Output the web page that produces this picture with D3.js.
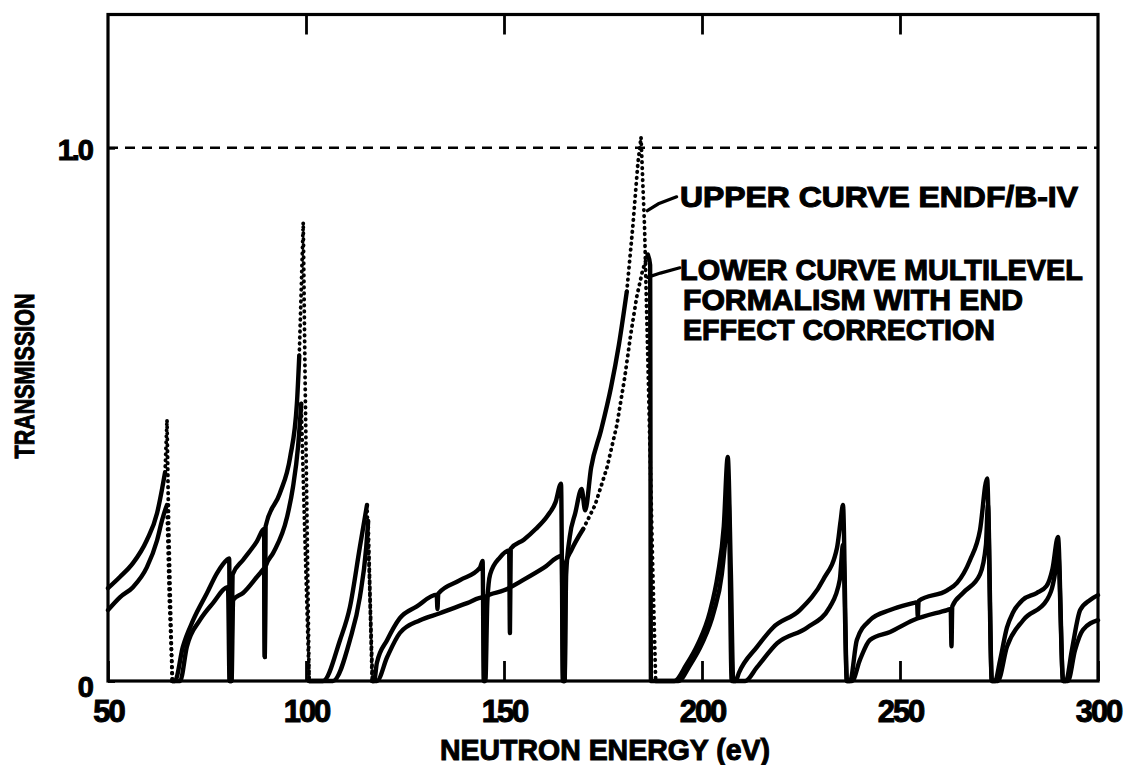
<!DOCTYPE html>
<html>
<head>
<meta charset="utf-8">
<script src="https://cdn.jsdelivr.net/npm/d3@7"></script>
<style>
  html, body { margin: 0; padding: 0; background: #fff; }
  svg { display: block; }
  text { font-family: "Liberation Sans", Arial, sans-serif; font-weight: bold; fill: #000; }
</style>
</head>
<body>
<svg id="chart" width="1132" height="765"></svg>
<script>
// Transmission vs neutron energy: ENDF/B-IV (upper) and multilevel fit (lower)
const xTicks = [50, 100, 150, 200, 250, 300];
const yTicks = [0, 1.0];
const yTickLabels = ["0", "1.0"];

// [energy eV, transmission]
const upperCurve = [
  [50.0, 0.174], [53.0, 0.195], [56.3, 0.221], [59.8, 0.264], [62.4, 0.315], [63.6, 0.358], [64.4, 0.391],
  [64.9, 0.49], [65.3, 0.30], [66.2, 0.0], [66.9, 0.0],
  [68.9, 0.064], [71.5, 0.114], [75.0, 0.165], [77.5, 0.202], [80.0, 0.227], [80.6, 0.23], [80.8, 0.0], [81.1, 0.0],
  [81.5, 0.2], [84.1, 0.227], [87.6, 0.262], [89.4, 0.285], [89.6, 0.045], [89.8, 0.29], [93.4, 0.352],
  [96.0, 0.42], [97.7, 0.52], [98.3, 0.61], [99.3, 0.86], [99.8, 0.55], [100.8, 0.0], [104.3, 0.0],
  [108.6, 0.077], [111.1, 0.139], [113.6, 0.251], [115.4, 0.33], [116.0, 0.2], [116.7, 0.0], [117.2, 0.0],
  [117.9, 0.034], [120.5, 0.077], [123.7, 0.118], [128.0, 0.14], [133.0, 0.162], [133.2, 0.135], [133.4, 0.164],
  [138.9, 0.189], [143.9, 0.212], [144.6, 0.225], [144.9, 0.0], [145.3, 0.0],
  [145.8, 0.15], [146.5, 0.20], [149.0, 0.232], [151.3, 0.245], [151.5, 0.09], [151.7, 0.248], [155.0, 0.265],
  [158.0, 0.285], [161.0, 0.31], [163.0, 0.335], [164.4, 0.37], [164.9, 0.0], [165.3, 0.0],
  [165.7, 0.2], [166.6, 0.27], [168.0, 0.315], [169.6, 0.36], [170.5, 0.32], [172.0, 0.40], [174.5, 0.47],
  [177.0, 0.55], [179.0, 0.63], [181.0, 0.73], [182.5, 0.85], [183.8, 0.97], [184.6, 1.02], [185.5, 0.85],
  [186.5, 0.55], [187.6, 0.2], [188.3, 0.0], [193.0, 0.0],
  [196.0, 0.03], [199.0, 0.07], [202.0, 0.13], [204.0, 0.2], [205.5, 0.29], [206.5, 0.42], [207.3, 0.2],
  [207.9, 0.0], [208.5, 0.0],
  [209.3, 0.015], [213.9, 0.064], [217.9, 0.10], [224.7, 0.133], [230.6, 0.19], [234.1, 0.25], [235.0, 0.30],
  [235.6, 0.33], [236.6, 0.0], [237.4, 0.0],
  [239.1, 0.077], [242.4, 0.114], [247.5, 0.133], [253.3, 0.146], [254.3, 0.148], [254.5, 0.12], [254.7, 0.15],
  [261.9, 0.17], [264.4, 0.184], [267.7, 0.227], [270.2, 0.283], [272.0, 0.38], [273.2, 0.0], [274.0, 0.0],
  [275.3, 0.04], [277.0, 0.10], [278.5, 0.128], [281.0, 0.152], [284.5, 0.165], [287.0, 0.178], [288.5, 0.21],
  [289.9, 0.27], [291.2, 0.0], [291.9, 0.0],
  [293.4, 0.058], [295.5, 0.133], [298.0, 0.152], [300.0, 0.161]
];

const lowerCurve = [
  [50.0, 0.133], [53.0, 0.157], [56.3, 0.176], [59.8, 0.213], [62.4, 0.264], [63.6, 0.30], [64.4, 0.32],
  [64.9, 0.33], [65.5, 0.15], [66.3, 0.0], [68.2, 0.0],
  [69.9, 0.064], [73.2, 0.114], [76.5, 0.146], [80.3, 0.176], [80.7, 0.0], [81.2, 0.0],
  [81.6, 0.152], [84.1, 0.165], [88.4, 0.202], [89.4, 0.21], [89.6, 0.045], [89.8, 0.215], [91.7, 0.24],
  [95.2, 0.307], [96.7, 0.363], [98.0, 0.44], [98.8, 0.52], [99.6, 0.3], [100.8, 0.0], [106.8, 0.0],
  [111.1, 0.077], [113.6, 0.157], [115.2, 0.25], [115.7, 0.30], [116.2, 0.15], [116.8, 0.0], [117.9, 0.0],
  [120.5, 0.045], [123.7, 0.09], [128.8, 0.114], [133.8, 0.127], [140.7, 0.146], [144.8, 0.157], [145.0, 0.0],
  [145.3, 0.158], [150.0, 0.17], [155.0, 0.19], [160.0, 0.212], [164.6, 0.235], [164.9, 0.0], [165.3, 0.0],
  [165.6, 0.22], [167.0, 0.245], [170.0, 0.285], [173.0, 0.33], [176.0, 0.40], [178.5, 0.48], [180.5, 0.57],
  [182.0, 0.65], [183.5, 0.72], [185.0, 0.77], [186.3, 0.80], [186.9, 0.78], [187.1, 0.0], [194.0, 0.0],
  [197.0, 0.03], [200.0, 0.07], [203.0, 0.13], [205.0, 0.2], [206.3, 0.3], [206.7, 0.34], [207.5, 0.0], [210.9, 0.0],
  [213.9, 0.026], [219.0, 0.071], [226.5, 0.10], [232.3, 0.139], [234.8, 0.19], [235.6, 0.255], [236.6, 0.0], [237.9, 0.0],
  [239.9, 0.04], [242.4, 0.077], [247.5, 0.092], [253.3, 0.114], [261.9, 0.133], [262.8, 0.135], [263.0, 0.065],
  [263.2, 0.14], [265.9, 0.165], [270.2, 0.2], [271.7, 0.255], [272.2, 0.33], [273.2, 0.0], [274.7, 0.0],
  [277.0, 0.064], [281.1, 0.114], [287.1, 0.152], [289.1, 0.2], [289.9, 0.245], [291.2, 0.0], [292.4, 0.0],
  [294.2, 0.058], [296.2, 0.096], [300.0, 0.114]
];

// Energy ranges where the plotter trace is only a sparse row of points
const upperSparse = [[64.4, 66.2], [98.3, 100.8], [115.4, 116.7], [181.0, 188.3]];
const lowerSparse = [[64.9, 66.3], [98.8, 100.8], [115.7, 116.8], [170.0, 186.3]];

const annotationLines = [
  "UPPER CURVE ENDF/B-IV",
  "LOWER CURVE MULTILEVEL",
  "FORMALISM WITH END",
  "EFFECT CORRECTION"
];

const svg = d3.select("#chart");
const x = d3.scaleLinear().domain([50, 300]).range([108, 1098]);
const y = d3.scaleLinear().domain([0, 1.25]).range([681, 14.5]);

// Reference line at full transmission
svg.append("line")
  .attr("x1", x(50)).attr("x2", x(300))
  .attr("y1", y(1.0)).attr("y2", y(1.0))
  .attr("stroke", "#000").attr("stroke-width", 2.4)
  .attr("stroke-dasharray", "10,7");

// Split a curve into solid and sparse (dotted) runs
function runs(points, sparse) {
  const out = [];
  let cur = null;
  for (let i = 1; i < points.length; i++) {
    const a = points[i - 1], b = points[i];
    const dotted = sparse.some(([lo, hi]) => a[0] >= lo && b[0] <= hi);
    if (!cur || cur.dotted !== dotted) {
      cur = { dotted, pts: [a] };
      out.push(cur);
    }
    cur.pts.push(b);
  }
  return out;
}

const smooth = d3.line().x(d => x(d[0])).y(d => y(d[1])).curve(d3.curveMonotoneX);
const straight = d3.line().x(d => x(d[0])).y(d => y(d[1]));

function drawCurve(points, sparse, cls) {
  const g = svg.append("g").attr("class", cls);
  runs(points, sparse).forEach(r => {
    const p = g.append("path")
      .attr("fill", "none")
      .attr("stroke", "#000")
      .attr("stroke-linejoin", "round")
      .attr("stroke-linecap", "round");
    if (r.dotted) {
      p.attr("d", straight(r.pts)).attr("stroke-width", 3.8).attr("stroke-dasharray", "0.5,5.5");
    } else {
      p.attr("d", smooth(r.pts)).attr("stroke-width", 4.4);
    }
  });
}

drawCurve(upperCurve, upperSparse, "upper");
drawCurve(lowerCurve, lowerSparse, "lower");

// Frame
svg.append("rect")
  .attr("x", x(50)).attr("y", y(1.25))
  .attr("width", x(300) - x(50)).attr("height", y(0) - y(1.25))
  .attr("fill", "none").attr("stroke", "#000").attr("stroke-width", 3.2);

// Bottom axis: labels and inward ticks
const xAxis = d3.axisBottom(x)
  .tickValues(xTicks)
  .tickSizeInner(-20).tickSizeOuter(0)
  .tickPadding(19)
  .tickFormat(d3.format("d"));
const gx = svg.append("g").attr("transform", `translate(0,${y(0)})`).call(xAxis);
gx.select(".domain").remove();
gx.selectAll(".tick line").attr("stroke", "#000").attr("stroke-width", 2.8);
gx.selectAll(".tick text")
  .style("font-size", "31px")
  .attr("letter-spacing", "-2")
  .attr("stroke", "#000").attr("stroke-width", 1);

// Top axis: inward ticks only
const gt = svg.append("g").attr("transform", `translate(0,${y(1.25)})`)
  .call(d3.axisTop(x).tickValues(xTicks.slice(1, -1)).tickSizeInner(-20).tickSizeOuter(0).tickFormat(""));
gt.select(".domain").remove();
gt.selectAll(".tick line").attr("stroke", "#000").attr("stroke-width", 2.8);

// Left axis
const yAxis = d3.axisLeft(y)
  .tickValues(yTicks)
  .tickSizeInner(-7).tickSizeOuter(0)
  .tickPadding(16)
  .tickFormat((d, i) => yTickLabels[i]);
const gy = svg.append("g").attr("transform", `translate(${x(50)},0)`).call(yAxis);
gy.select(".domain").remove();
gy.selectAll(".tick line").attr("stroke", "#000").attr("stroke-width", 2.8);
gy.selectAll(".tick text")
  .style("font-size", "29px")
  .attr("letter-spacing", "-2")
  .attr("stroke", "#000").attr("stroke-width", 1)
  .attr("dy", (d) => d === 0 ? "0.55em" : "0.4em");

// Axis titles
svg.append("text")
  .attr("x", 605).attr("y", 760)
  .attr("text-anchor", "middle")
  .attr("textLength", 330).attr("lengthAdjust", "spacingAndGlyphs")
  .style("font-size", "29px")
  .attr("stroke", "#000").attr("stroke-width", 1)
  .text("NEUTRON ENERGY (eV)");

svg.append("text")
  .attr("transform", "translate(34,376) rotate(-90)")
  .attr("text-anchor", "middle")
  .attr("textLength", 165).attr("lengthAdjust", "spacingAndGlyphs")
  .style("font-size", "27px")
  .attr("stroke", "#000").attr("stroke-width", 1)
  .text("TRANSMISSION");

// Annotation
const annX = [680, 680, 683, 683];
const annY = [207, 280, 310, 340];
const annW = [398, 403, 340, 312];
annotationLines.forEach((t, i) => {
  svg.append("text")
    .attr("x", annX[i]).attr("y", annY[i])
    .attr("textLength", annW[i]).attr("lengthAdjust", "spacingAndGlyphs")
    .style("font-size", "29px")
    .attr("stroke", "#000").attr("stroke-width", 1.1)
    .text(t);
});

// Leaders from the annotation to each curve
const leaders = [
  [[186.2, 0.882], [189.0, 0.895], [193.6, 0.908]],
  [[186.2, 0.757], [189.5, 0.765], [194.4, 0.775]]
];
leaders.forEach(l => {
  svg.append("path")
    .attr("d", straight(l))
    .attr("fill", "none").attr("stroke", "#000")
    .attr("stroke-width", 3.2).attr("stroke-linecap", "round");
});
</script>
</body>
</html>
